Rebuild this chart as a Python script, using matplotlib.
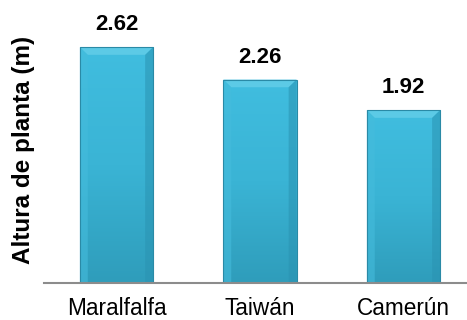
import matplotlib
matplotlib.use("Agg")
import numpy as np
import matplotlib.pyplot as plt
from matplotlib.patches import Polygon
from matplotlib.colors import LinearSegmentedColormap

plt.rcParams['font.family'] = ['Liberation Sans', 'DejaVu Sans']

categories = ['Maralfalfa', 'Taiwán', 'Camerún']
heights = [2.62, 2.26, 1.92]
value_labels = ['2.62', '2.26', '1.92']

fig = plt.figure(figsize=(4.67, 3.2), dpi=100)
ax = fig.add_axes([44 / 467, 1 - 283 / 320, 423 / 467, (283 - 13) / 320])

x = list(range(len(categories)))
bars = ax.bar(x, heights, width=0.51, color='#3ab6d7', edgecolor='none', zorder=2)

# vertical gradient + soft bevel on each bar
grad = LinearSegmentedColormap.from_list('g', ['#2f9dbb', '#3ab4d5', '#40bddf'])
bx, by = 0.055, 0.085
for b in bars:
    x0, w, h = b.get_x(), b.get_width(), b.get_height()
    x1 = x0 + w
    im = ax.imshow(np.linspace(0, 1, 100).reshape(-1, 1), cmap=grad, origin='lower',
                   extent=(x0, x1, 0, h), aspect='auto', zorder=2.5)
    im.set_clip_path(b)
    top = Polygon([(x0, h), (x1, h), (x1 - bx, h - by), (x0 + bx, h - by)],
                  closed=True, facecolor='#5ccae6', edgecolor='none', zorder=3)
    left = Polygon([(x0, h), (x0 + bx, h - by), (x0 + bx, 0), (x0, 0)],
                   closed=True, facecolor='#45bcdc', edgecolor='none', alpha=0.6, zorder=3)
    right = Polygon([(x1, h), (x1 - bx, h - by), (x1 - bx, 0), (x1, 0)],
                    closed=True, facecolor='#2a93b2', edgecolor='none', alpha=0.55, zorder=3)
    for p in (top, left, right):
        ax.add_patch(p)
    ax.add_patch(Polygon([(x0, h), (x1, h), (x1, 0), (x0, 0)], closed=True,
                         facecolor='none', edgecolor='#2a8aa6', linewidth=0.8, zorder=4))

for xi, h, lab in zip(x, heights, value_labels):
    ax.annotate(lab, (xi, h), xytext=(0, 16), textcoords='offset points',
                ha='center', va='center', fontsize=16, fontweight='bold')

ax.set_xlim(-0.505, 2.443)
ax.set_ylim(0, 3.0)
ax.set_xticks(x)
ax.set_xticklabels(categories, fontsize=16.3)
ax.tick_params(axis='x', length=0, pad=10)
ax.set_yticks([])
for s in ('top', 'right', 'left'):
    ax.spines[s].set_visible(False)
ax.spines['bottom'].set_color('#8c8c8c')
ax.spines['bottom'].set_linewidth(1.5)
ax.spines['bottom'].set_zorder(5)

fig.text(24 / 467, 1 - 150 / 320, 'Altura de planta (m)', rotation=90,
         ha='center', va='center', fontsize=17.5, fontweight='bold')

fig.savefig('out.png', dpi=100)
